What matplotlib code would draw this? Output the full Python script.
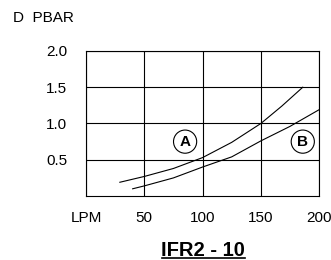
import matplotlib.pyplot as plt

plt.rcParams['font.family'] = ['Liberation Sans', 'DejaVu Sans']

# flow (LPM) vs pressure drop (bar)
flow_a = [29, 50, 75, 100, 125, 150, 168, 186]
dp_a = [0.19, 0.27, 0.38, 0.53, 0.74, 1.0, 1.24, 1.5]
flow_b = [40, 50, 75, 100, 125, 150, 175, 200]
dp_b = [0.10, 0.14, 0.25, 0.40, 0.54, 0.76, 0.96, 1.19]

x_ticks = [0, 50, 100, 150, 200]
x_labels = ['LPM', '50', '100', '150', '200']
y_ticks = [0.5, 1.0, 1.5, 2.0]
y_labels = ['0.5', '1.0', '1.5', '2.0']

fig = plt.figure(figsize=(3.31, 2.60), dpi=100)
ax = fig.add_axes([0.26, 0.246, 0.704, 0.558])

ax.plot(flow_a, dp_a, color='black', lw=0.8)
ax.plot(flow_b, dp_b, color='black', lw=0.8)

ax.set_xlim(0, 200)
ax.set_ylim(0, 2)
ax.set_xticks(x_ticks)
ax.set_xticklabels(x_labels)
ax.set_yticks(y_ticks)
ax.set_yticklabels(y_labels)
ax.tick_params(length=0, labelsize=11)
ax.tick_params(axis='x', pad=11)
ax.tick_params(axis='y', pad=13.5)
ax.grid(True, color='black', lw=0.8)
for s in ax.spines.values():
    s.set_linewidth(0.8)

# circled curve labels
for lbl, x in [('A', 85), ('B', 186)]:
    ax.text(x, 0.75, lbl, ha='center', va='center', fontsize=11, fontweight='bold',
            bbox=dict(boxstyle='circle,pad=0.3', fc='white', ec='black', lw=0.8))

fig.text(0.04, 0.93, 'D  PBAR', fontsize=11, va='center')
fig.text(0.613, 0.038, 'IFR2 - 10', fontsize=14.5, fontweight='bold', ha='center', va='center')
fig.add_artist(plt.Line2D([0.489, 0.741], [0.008, 0.008], color='black', lw=1.2))

fig.savefig('out.png', dpi=100)
